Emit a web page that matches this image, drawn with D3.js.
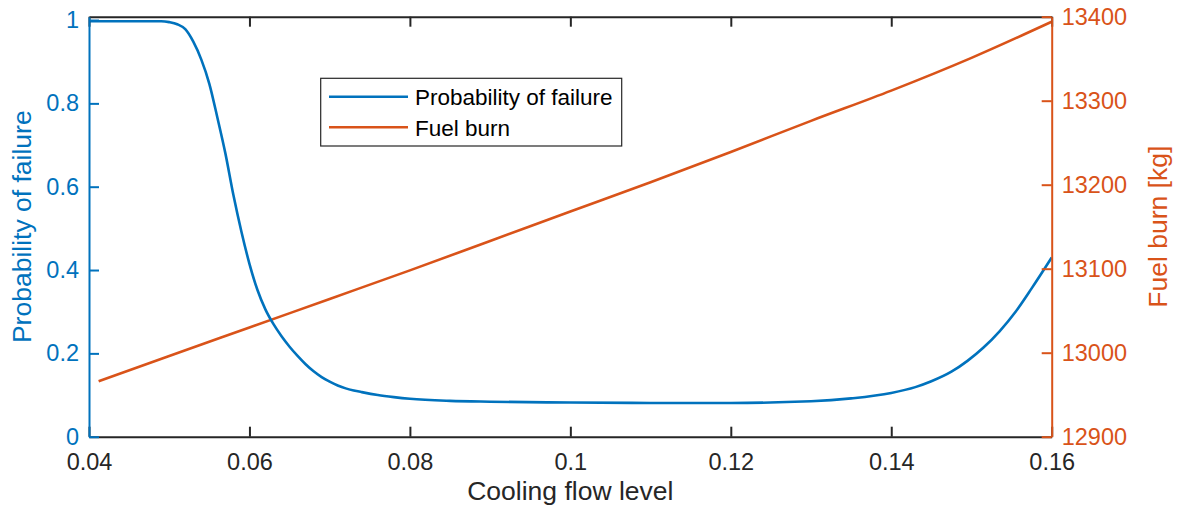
<!DOCTYPE html>
<html>
<head>
<meta charset="utf-8">
<script src="https://cdn.jsdelivr.net/npm/d3@7"></script>
<style>
  html, body { margin: 0; padding: 0; background: #fff; }
  svg { display: block; font-family: "Liberation Sans", Arial, Helvetica, sans-serif; }
</style>
</head>
<body>
<svg id="chart" width="1177" height="513"></svg>
<script>
// ---------- data ----------
const pfX = [0.040, 0.045, 0.049, 0.050, 0.051, 0.052, 0.053, 0.054, 0.055, 0.056,
             0.057, 0.058, 0.059, 0.060, 0.061, 0.062, 0.063, 0.064, 0.065, 0.066,
             0.067, 0.068, 0.069, 0.070, 0.071, 0.072, 0.073, 0.074, 0.076, 0.078,
             0.080, 0.085, 0.090, 0.100, 0.110, 0.120, 0.130, 0.135, 0.140, 0.143,
             0.145, 0.1475, 0.1495, 0.1515, 0.1535, 0.1555, 0.1575, 0.160];
const pfY = [0.997, 0.997, 0.997, 0.995, 0.990, 0.978, 0.948, 0.905, 0.847, 0.766,
             0.680, 0.580, 0.492, 0.415, 0.352, 0.305, 0.270, 0.241, 0.216, 0.194,
             0.174, 0.157, 0.143, 0.132, 0.123, 0.116, 0.111, 0.107, 0.100, 0.095,
             0.091, 0.086, 0.084, 0.082, 0.081, 0.081, 0.085, 0.092, 0.105, 0.119,
             0.133, 0.156, 0.182, 0.214, 0.253, 0.300, 0.356, 0.430];

const fuelX = [0.0412, 0.05, 0.06, 0.07, 0.08, 0.09, 0.10, 0.11, 0.12, 0.13, 0.14, 0.15, 0.16];
const fuelY = [12966, 12996, 13030, 13064, 13098, 13133, 13168, 13203, 13239, 13276, 13312, 13351, 13394];

const xTicks = [0.04, 0.06, 0.08, 0.10, 0.12, 0.14, 0.16];
const xTickLabels = ["0.04", "0.06", "0.08", "0.1", "0.12", "0.14", "0.16"];
const leftTicks = [0, 0.2, 0.4, 0.6, 0.8, 1];
const leftTickLabels = ["0", "0.2", "0.4", "0.6", "0.8", "1"];
const rightTicks = [12900, 13000, 13100, 13200, 13300, 13400];
const rightTickLabels = ["12900", "13000", "13100", "13200", "13300", "13400"];
const seriesNames = ["Probability of failure", "Fuel burn"];

// ---------- layout ----------
const BLUE = "#0072BD", ORANGE = "#D95319", DARK = "#262626";
const L = 89, R = 1051.7, T = 16.7, B = 436.7;
const svg = d3.select("#chart");

const x = d3.scaleLinear().domain([0.04, 0.16]).range([L, R]);
const yL = d3.scaleLinear().domain([0, 1.008]).range([B, T]);
const yR = d3.scaleLinear().domain([12900, 13400]).range([B, T]);

// data lines
const lineP = d3.line().x((d, i) => x(pfX[i])).y(d => yL(d)).curve(d3.curveMonotoneX);
const lineF = d3.line().x((d, i) => x(fuelX[i])).y(d => yR(d)).curve(d3.curveMonotoneX);

svg.append("path").attr("d", lineF(fuelY))
  .attr("fill", "none").attr("stroke", ORANGE).attr("stroke-width", 2.6)
  .attr("stroke-linejoin", "round");
svg.append("path").attr("d", lineP(pfY))
  .attr("fill", "none").attr("stroke", BLUE).attr("stroke-width", 2.6)
  .attr("stroke-linejoin", "round");

const tickFont = 23.5;

// top axis (no labels)
const gTop = svg.append("g").attr("transform", `translate(0,${T})`)
  .call(d3.axisTop(x).tickValues(xTicks).tickSizeInner(-10).tickSizeOuter(0).tickFormat(""));
// bottom axis
const gBot = svg.append("g").attr("transform", `translate(0,${B})`)
  .call(d3.axisBottom(x).tickValues(xTicks).tickSizeInner(-10).tickSizeOuter(0)
    .tickPadding(17).tickFormat((d, i) => xTickLabels[i]));
[gTop, gBot].forEach(g => {
  g.select(".domain").attr("stroke", DARK).attr("stroke-width", 2);
  g.selectAll(".tick line").attr("stroke", DARK).attr("stroke-width", 2);
  g.selectAll("text").attr("fill", DARK).style("font-size", tickFont + "px")
    .style("font-family", '"Liberation Sans", Arial, sans-serif');
});

// left axis
const gL = svg.append("g").attr("transform", `translate(${L},0)`)
  .call(d3.axisLeft(yL).tickValues(leftTicks).tickSizeInner(-10).tickSizeOuter(0)
    .tickPadding(10).tickFormat((d, i) => leftTickLabels[i]));
gL.select(".domain").attr("stroke", BLUE).attr("stroke-width", 2);
gL.selectAll(".tick line").attr("stroke", BLUE).attr("stroke-width", 2);
gL.selectAll("text").attr("fill", BLUE).style("font-size", tickFont + "px")
  .style("font-family", '"Liberation Sans", Arial, sans-serif');

// right axis
const gR = svg.append("g").attr("transform", `translate(${R},0)`)
  .call(d3.axisRight(yR).tickValues(rightTicks).tickSizeInner(-10).tickSizeOuter(0)
    .tickPadding(10).tickFormat((d, i) => rightTickLabels[i]));
gR.select(".domain").attr("stroke", ORANGE).attr("stroke-width", 2);
gR.selectAll(".tick line").attr("stroke", ORANGE).attr("stroke-width", 2);
gR.selectAll("text").attr("fill", ORANGE).style("font-size", tickFont + "px")
  .style("font-family", '"Liberation Sans", Arial, sans-serif');

// axis labels
const labelFont = 26.5;
svg.append("text").attr("x", (L + R) / 2).attr("y", 500)
  .attr("text-anchor", "middle").attr("fill", DARK)
  .style("font-size", labelFont + "px").text("Cooling flow level");
svg.append("text").attr("transform", `translate(31,${(T + B) / 2}) rotate(-90)`)
  .attr("text-anchor", "middle").attr("fill", BLUE)
  .style("font-size", labelFont + "px").text("Probability of failure");
svg.append("text").attr("transform", `translate(1166.5,${(T + B) / 2}) rotate(-90)`)
  .attr("text-anchor", "middle").attr("fill", ORANGE)
  .style("font-size", labelFont + "px").text("Fuel burn [kg]");

// legend
const lg = svg.append("g");
lg.append("rect").attr("x", 320.7).attr("y", 78.3).attr("width", 301).attr("height", 67.7)
  .attr("fill", "#fff").attr("stroke", DARK).attr("stroke-width", 1.2);
const legendColors = [BLUE, ORANGE];
const legendY = [96.7, 127.3];
seriesNames.forEach((name, i) => {
  lg.append("line").attr("x1", 329).attr("x2", 408)
    .attr("y1", legendY[i]).attr("y2", legendY[i])
    .attr("stroke", legendColors[i]).attr("stroke-width", 2.6);
  lg.append("text").attr("x", 415).attr("y", legendY[i] + 8.5)
    .attr("fill", "#000").style("font-size", "22.5px").text(name);
});
</script>
</body>
</html>
